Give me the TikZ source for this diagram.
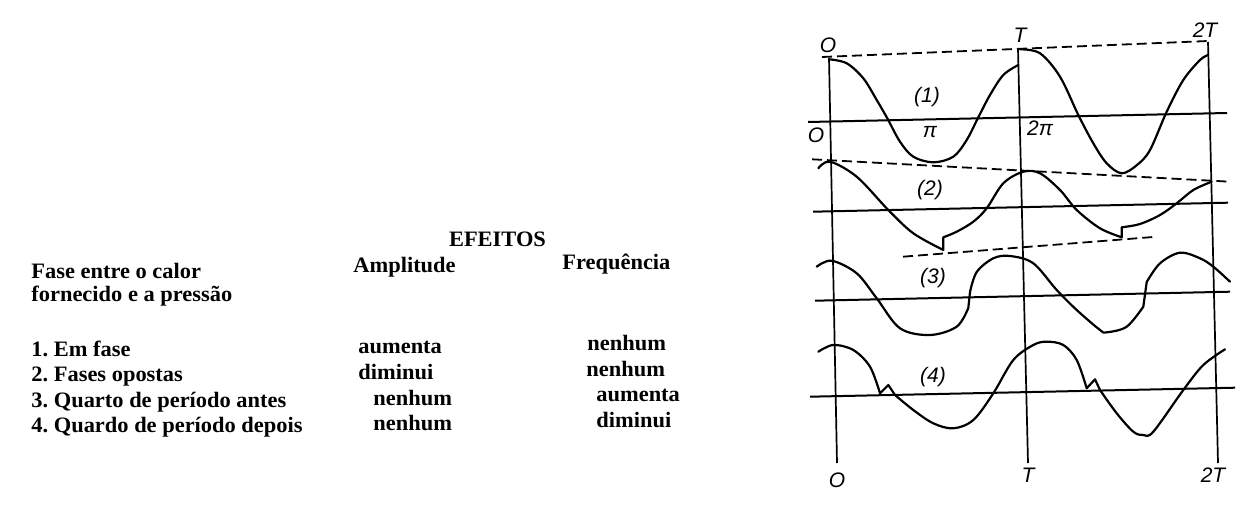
\documentclass[tikz,border=0pt]{standalone}
\usepackage{fontspec}
\setmainfont{Liberation Serif}
\newfontfamily\handfont{Liberation Sans}
\usepackage{graphicx}
\frenchspacing
\newcommand{\sx}[1]{\scalebox{1.02}[1]{#1}}
\begin{document}
\begin{tikzpicture}[x=0.5pt,y=-0.5pt,
  tbl/.style={anchor=base west,inner sep=0pt,font=\fontsize{11}{13}\selectfont\bfseries\frenchspacing},
  lbl/.style={inner sep=0pt,font=\handfont\itshape\fontsize{10.5}{12}\selectfont},
  wave/.style={line width=1.1pt,line join=round,line cap=round},
  axisline/.style={line width=1pt},
  vline/.style={line width=0.85pt},
  dashline/.style={line width=0.9pt,dash pattern=on 5pt off 2.5pt}]
\useasboundingbox (0,0) rectangle (1241,508);
% ---------- table ----------
\node[tbl,anchor=base] (efeitos) at (497.5,246) {\sx{EFEITOS}};
\node[tbl] (fase1) at (31,278) {\sx{Fase entre o calor}};
\node[tbl] (fase2) at (31,301.5) {\sx{fornecido e a pressão}};
\node[tbl] (amp) at (353,272.5) {\sx{Amplitude}};
\node[tbl] (freq) at (562,269) {\sx{Frequência}};
\node[tbl] (r1) at (31,356) {\sx{1. Em fase}};
\node[tbl] (r2) at (31,381) {\sx{2. Fases opostas}};
\node[tbl] (r3) at (31,407) {\sx{3. Quarto de período antes}};
\node[tbl] (r4) at (31,432.5) {\sx{4. Quardo de período depois}};
\node[tbl] (a1) at (358,353) {\sx{aumenta}};
\node[tbl] (a2) at (358,379) {\sx{diminui}};
\node[tbl] (a3) at (373,405) {\sx{nenhum}};
\node[tbl] (a4) at (373,430) {\sx{nenhum}};
\node[tbl] (f1) at (587,350) {\sx{nenhum}};
\node[tbl] (f2) at (586,376) {\sx{nenhum}};
\node[tbl] (f3) at (596,401.5) {\sx{aumenta}};
\node[tbl] (f4) at (596,427.5) {\sx{diminui}};
% ---------- wave diagram ----------
\coordinate (v0t) at (829,58);   \coordinate (v0b) at (837,463);
\coordinate (v1t) at (1018,49);  \coordinate (v1b) at (1028,463);
\coordinate (v2t) at (1208,42);  \coordinate (v2b) at (1218,463);
\draw[vline] (v0t) -- (v0b);
\draw[vline] (v1t) -- (v1b);
\draw[vline] (v2t) -- (v2b);
% axes
\coordinate (a1l) at (808,122);  \coordinate (a1r) at (1227,113);
\coordinate (a2l) at (813,211.7); \coordinate (a2r) at (1228,202.7);
\coordinate (a3l) at (815,300.7); \coordinate (a3r) at (1230,291.7);
\coordinate (a4l) at (810,396.7); \coordinate (a4r) at (1235,387.7);
\draw[axisline] (a1l) -- (a1r);
\draw[axisline] (a2l) -- (a2r);
\draw[axisline] (a3l) -- (a3r);
\draw[axisline] (a4l) -- (a4r);
% dashed envelopes
\coordinate (d1l) at (822,57);    \coordinate (d1r) at (1208,41);
\coordinate (d2l) at (812,159.3); \coordinate (d2r) at (1230,181.7);
\coordinate (d3l) at (903,256.7); \coordinate (d3r) at (1157,236.7);
\draw[dashline] (d1l) -- (d1r);
\draw[dashline] (d2l) -- (d2r);
\draw[dashline] (d3l) -- (d3r);
% curve 1
\draw[wave] plot[smooth,tension=0.55] coordinates {(829.3,59.3) (846.7,63.3) (863.3,78.3) (876.7,100) (887.3,118.3) (900,141.7) (913.3,156.7) (933.3,162.3) (953.3,156.7) (966.7,140) (978.3,117.3) (990,95) (1003.3,75) (1018.3,65)};
\draw[wave] plot[smooth,tension=0.55] coordinates {(1020,49.3) (1040,53.3) (1060,76.7) (1078.3,115) (1093.3,143.3) (1106.7,163.3) (1121.7,173.3) (1137,165) (1150,150) (1166.7,111.7) (1183.3,80) (1200,60) (1208.3,55)};
% curve 2
\draw[wave] plot[smooth,tension=0.55] coordinates {(818.3,168.3) (830,161.7) (856.7,176.7) (888.3,210) (913.3,233.3) (943.3,250)}
  -- (943.3,237.3)
  -- plot[smooth,tension=0.55] coordinates {(943.3,237.3) (956.7,231.7) (973.3,221.7) (986.7,208.3) (1003.3,183.3) (1023.3,171.7) (1040,173.3) (1060,190) (1076.7,210) (1100,228.3) (1121.7,237.3)}
  -- (1121.7,227.3)
  -- plot[smooth,tension=0.55] coordinates {(1121.7,227.3) (1140,224) (1160,215) (1176.7,203.3) (1193.3,190) (1211.7,181.7)};
% curve 3
\draw[wave] plot[smooth,tension=0.55] coordinates {(816.7,266.7) (831.7,260.7) (856.7,273.3) (876.7,298.3) (900,328.3) (930,335) (956.7,326.7) (968.3,308)}
  -- (970,292)
  -- plot[smooth,tension=0.55] coordinates {(970,292) (976.7,272) (993.3,258.3) (1010,256) (1033.3,263.3) (1056.7,290) (1076.7,310) (1100,330) (1106.7,332.3) (1126.7,326.7) (1143.3,306.7)}
  -- (1146.7,282)
  -- plot[smooth,tension=0.55] coordinates {(1146.7,282) (1160,263.3) (1180,252.7) (1200,258.3) (1213.3,266.7) (1230,281.7)};
% curve 4
\draw[wave] plot[smooth,tension=0.55] coordinates {(818.3,351.7) (833.3,345) (853.3,350) (870,366.7) (880,393.3)}
  -- (888.3,385) -- (895,395)
  -- plot[smooth,tension=0.55] coordinates {(895,395) (913.3,410) (933.3,423.3) (953.3,428.3) (973.3,420) (993.3,393.3) (1013.3,360) (1033.3,345) (1046.7,341.7) (1063.3,345) (1076.7,360) (1086.7,388.3)}
  -- (1095,379.3) -- (1100,390)
  -- plot[smooth,tension=0.55] coordinates {(1100,390) (1116.7,413.3) (1133.3,431.7) (1143.3,435) (1153.3,431.7) (1183.3,390) (1203.3,365) (1225,349.3)};
% labels
\node[lbl] (lO) at (828,45) {O};
\node[lbl] (lT) at (1020,35) {T};
\node[lbl] (l2T) at (1205,30) {2T};
\node[lbl] (lO2) at (816,135) {O};
\node[lbl] (lpi) at (930,132) {π};
\node[lbl] (l2pi) at (1040,128) {2π};
\node[lbl] (n1) at (927,97) {(1)};
\node[lbl] (n2) at (930,190) {(2)};
\node[lbl] (n3) at (933,278) {(3)};
\node[lbl] (n4) at (933,377) {(4)};
\node[lbl] (bO) at (837,480) {O};
\node[lbl] (bT) at (1028,475) {T};
\node[lbl] (b2T) at (1213,475) {2T};
\end{tikzpicture}
\end{document}
